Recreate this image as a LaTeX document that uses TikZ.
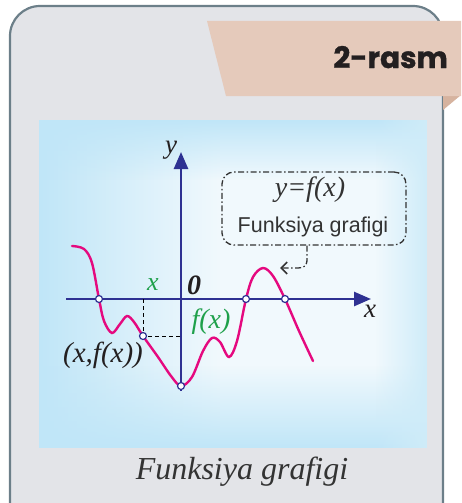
\documentclass[tikz,border=0pt]{standalone}
\usepackage{fontspec}
\setmainfont{Liberation Serif}
\newfontfamily\sansA{Liberation Sans}
\newfontfamily\popp{Poppins}[BoldFeatures={FakeBold=1.2}]
\usetikzlibrary{arrows.meta,fadings}
\definecolor{frameFill}{HTML}{E3E4E8}
\definecolor{frameLine}{HTML}{6C7F89}
\definecolor{ribbon}{HTML}{E5CABB}
\definecolor{ribbonFold}{HTML}{D6B39F}
\definecolor{panelBase}{HTML}{F1F9FD}
\definecolor{panelBlue}{HTML}{C0E6F8}
\definecolor{axisBlue}{HTML}{2E3192}
\definecolor{magentaC}{HTML}{E5097F}
\definecolor{greenC}{HTML}{1FA04B}
\definecolor{darkT}{HTML}{231F20}
\definecolor{grayT}{HTML}{333333}
\tikzset{
  axisline/.style={draw=axisBlue, line width=2.6pt, -{Triangle[length=17pt,width=14pt]}},
  graphline/.style={draw=magentaC, line width=2.4pt, line cap=round},
  ptmark/.style={circle, draw=axisBlue, fill=white, line width=1.2pt, inner sep=0pt, minimum size=7pt},
  helper/.style={draw=black, line width=0.9pt, dash pattern=on 4pt off 3pt},
  dashdotline/.style={draw=grayT, line width=1.3pt, dash pattern=on 6pt off 2.5pt on 1.5pt off 2.5pt},
  lbl/.style={inner sep=0pt, font=\itshape\fontsize{27}{27}\selectfont},
}
\begin{document}
\begin{tikzpicture}[x=1pt,y=-1pt]
\useasboundingbox (0,0) rectangle (461,503);
% outer frame
\path[fill=frameFill, draw=frameLine, line width=2.2pt, rounded corners=30pt]
  (10,6) rectangle (443,540);
% ribbon
\fill[ribbonFold] (443,95) -- (461,95) -- (443,110) -- cycle;
\fill[ribbon] (207,21) -- (461,21) -- (461,96) -- (226,96) -- cycle;
\node[font=\popp\bfseries\fontsize{29.5}{29.5}\selectfont, text=darkT, anchor=base east, inner sep=0pt] (title) at (448,68) {2-rasm};
% panel
\fill[panelBase] (39,120) rectangle (427,448);
\fill[panelBlue, path fading=east] (39,120) rectangle (220,448);
\fill[panelBlue, path fading=north] (39,365) rectangle (427,448);
\fill[panelBlue, path fading=south] (39,120) rectangle (427,180);
\fill[panelBlue!70!panelBase, path fading=west] (375,120) rectangle (427,448);
% axes
\coordinate (xs) at (66,299);
\coordinate (xe) at (371,299);
\coordinate (ys) at (181,391);
\coordinate (ye) at (181,152);
\draw[axisline] (xs) -- (xe);
\draw[axisline] (ys) -- (ye);
\node[lbl, text=darkT] (ylab) at (171,150) {y};
\node[lbl, text=darkT] (xlab) at (370,311) {x};
\node[inner sep=0pt, font=\bfseries\itshape\fontsize{28}{28}\selectfont, text=darkT] (zero) at (194,285) {0};
\node[lbl, text=greenC, font=\itshape\fontsize{26}{26}\selectfont] (xg) at (153,285) {x};
\node[lbl, text=greenC, font=\itshape\fontsize{28}{28}\selectfont] (fxg) at (211,322) {f(x)};
\node[lbl, text=darkT, font=\itshape\fontsize{29}{29}\selectfont] (pxl) at (103,355) {(x,f(x))};
% helper dashed
\coordinate (xfoot) at (143,299);
\coordinate (yfoot) at (181,336);
\draw[helper] (xfoot) -- (143,336) -- (yfoot);
% graph
\draw[graphline] plot[smooth, tension=0.55] coordinates {
 (72,246) (84,249) (92,263) (99,299) (104,321) (112,333) (120,324) (127,316) (134,322) (143,336)
 (158,357) (171,376) (181,386) (192,377) (203,351) (212,338) (220,342) (229,357) (237,341) (246,299)
 (253,277) (263,268) (273,276) (285,299) (299,331) (313,361)};
\node[ptmark] (p1) at (99,299) {};
\node[ptmark] (p2) at (143,336) {};
\node[ptmark] (p3) at (181,386) {};
\node[ptmark] (p4) at (246,299) {};
\node[ptmark] (p5) at (285,299) {};
% callout
\node[dashdotline, rounded corners=12pt, minimum width=184pt, minimum height=73pt, inner sep=0pt] (box) at (314,208.5) {};
\node[inner sep=0pt, font=\itshape\fontsize{28}{28}\selectfont, text=grayT] (eq) at (310,190) {y=f(x)};
\node[inner sep=0pt, font=\sansA\fontsize{21.5}{21.5}\selectfont, text=grayT] (ftxt) at (313,227) {Funksiya grafigi};
\coordinate (tipc) at (280,268);
\draw[dashdotline, -{Straight Barb[length=6pt,width=12pt,line width=1.6pt]}]
  ([xshift=-7pt]box.south) -- (307,259) .. controls (307,266) and (304,268) .. (298,268) -- (tipc);
% caption
\node[inner sep=0pt, font=\itshape\fontsize{32}{32}\selectfont, text=grayT] (cap) at (242,472) {Funksiya grafigi};
\end{tikzpicture}
\end{document}
